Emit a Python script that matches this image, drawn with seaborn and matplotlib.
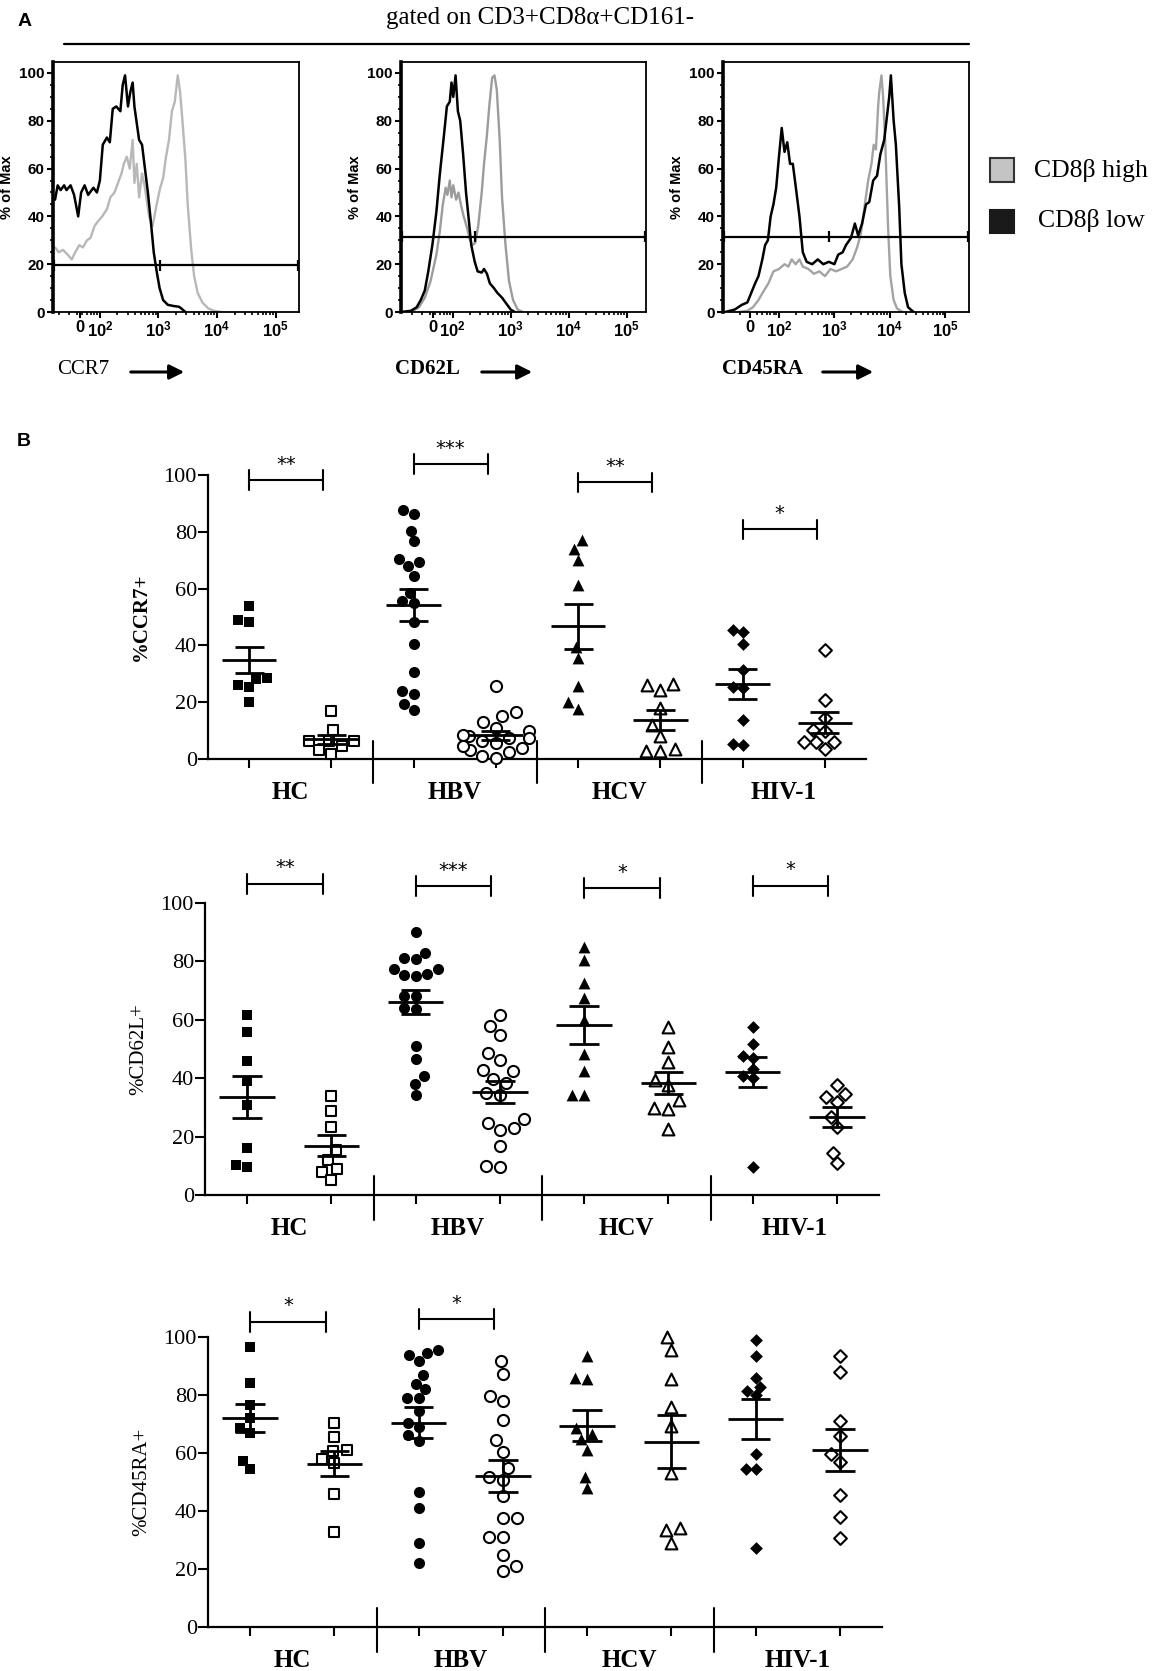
import numpy as np
import pandas as pd
import matplotlib
matplotlib.use("Agg")
import matplotlib.pyplot as plt
import seaborn as sns
from matplotlib.patches import Rectangle
from matplotlib.lines import Line2D

sns.set_theme(style="ticks", rc={"axes.edgecolor": "black", "xtick.color": "black",
                                 "ytick.color": "black", "text.color": "black",
                                 "axes.labelcolor": "black"})
plt.rcParams['font.family'] = ['Liberation Serif', 'DejaVu Serif']
plt.rcParams['mathtext.fontset'] = 'custom'
plt.rcParams['mathtext.bf'] = 'Liberation Sans:bold'
plt.rcParams['mathtext.rm'] = 'Liberation Sans:bold'

W, H = 1158, 1671

# ---------------- panel A: histograms (x in display decades, y in % of max)
ccr7_hi_x = [1.235, 1.30, 1.37, 1.45, 1.52, 1.58, 1.65, 1.71, 1.78, 1.84, 1.91, 1.97, 2.04, 2.12,
             2.18, 2.25, 2.31, 2.37, 2.41, 2.46, 2.51, 2.56, 2.59, 2.63, 2.67, 2.72, 2.77, 2.84,
             2.90, 2.97, 3.03, 3.08, 3.13, 3.18, 3.23, 3.28, 3.33, 3.37, 3.41, 3.46, 3.50, 3.56,
             3.61, 3.67, 3.75, 3.85, 3.95, 4.08]
ccr7_hi_y = [27, 25, 26, 24, 22, 25, 28, 27, 30, 31, 36, 38, 40, 43,
             48, 50, 54, 58, 62, 65, 60, 72, 54, 62, 48, 58, 52, 40,
             36, 45, 52, 56, 65, 72, 84, 88, 99, 92, 80, 64, 45, 26,
             15, 8, 4, 1.5, 0.5, 0]
ccr7_lo_x = [1.235, 1.28, 1.33, 1.39, 1.43, 1.50, 1.56, 1.63, 1.68, 1.74, 1.80, 1.89, 1.95, 2.00,
             2.05, 2.12, 2.17, 2.22, 2.28, 2.35, 2.39, 2.43, 2.48, 2.52, 2.56, 2.59, 2.63, 2.67,
             2.72, 2.77, 2.82, 2.87, 2.92, 2.97, 3.02, 3.08, 3.16, 3.26, 3.35, 3.39, 3.46]
ccr7_lo_y = [47, 53, 51, 53, 51, 53, 49, 40, 50, 53, 49, 52, 50, 55,
             70, 73, 71, 85, 86, 84, 95, 99, 86, 92, 96, 86, 79, 72,
             70, 60, 50, 38, 25, 17, 10, 5, 3, 2.5, 2.2, 1.5, 0]

cd62l_hi_x = [1.32, 1.42, 1.52, 1.62, 1.72, 1.78, 1.83, 1.88, 1.91, 1.95, 1.98, 2.01, 2.06, 2.10,
              2.15, 2.19, 2.25, 2.30, 2.34, 2.39, 2.44, 2.50, 2.54, 2.59, 2.63, 2.68, 2.72, 2.76,
              2.81, 2.85, 2.91, 2.97, 3.04, 3.12, 3.21]
cd62l_hi_y = [0.5, 2, 6, 13, 24, 34, 45, 52, 49, 55, 48, 53, 47, 50,
              44, 40, 35, 30, 28, 29, 36, 50, 62, 74, 86, 98, 99, 93,
              72, 48, 28, 13, 5, 1, 0]
cd62l_lo_x = [1.11, 1.28, 1.38, 1.45, 1.52, 1.58, 1.65, 1.72, 1.78, 1.85, 1.90, 1.95, 1.98, 2.01,
              2.05, 2.09, 2.13, 2.18, 2.23, 2.28, 2.32, 2.38, 2.43, 2.50, 2.54, 2.59, 2.64, 2.71,
              2.77, 2.85, 2.94, 3.00, 3.07]
cd62l_lo_y = [0, 0.5, 2, 5, 9, 17, 28, 42, 58, 74, 86, 88, 96, 90,
              99, 84, 80, 66, 50, 38, 28, 21, 17, 16.5, 18, 16, 12, 10,
              8, 6, 3, 1, 0]

cd45ra_hi_x = [1.27, 1.43, 1.53, 1.63, 1.73, 1.81, 1.90, 2.00, 2.10, 2.17, 2.23, 2.30, 2.37, 2.43,
               2.53, 2.63, 2.73, 2.83, 2.93, 3.03, 3.13, 3.23, 3.33, 3.41, 3.48, 3.55, 3.61, 3.67,
               3.71, 3.75, 3.79, 3.81, 3.85, 3.88, 3.92, 3.97, 4.01, 4.07, 4.13, 4.23]
cd45ra_hi_y = [0, 0.5, 2, 5, 9, 12, 17, 18, 20, 19, 22, 20, 22, 19,
               18, 16, 17, 15, 18, 17, 18, 19, 22, 27, 33, 45, 55, 62,
               70, 68, 86, 92, 99, 90, 70, 35, 15, 5, 1.5, 0]
cd45ra_lo_x = [1.03, 1.20, 1.33, 1.43, 1.50, 1.57, 1.63, 1.70, 1.75, 1.80, 1.85, 1.90, 1.95, 2.00,
               2.05, 2.10, 2.15, 2.20, 2.25, 2.30, 2.37, 2.43, 2.50, 2.60, 2.70, 2.80, 2.90, 3.00,
               3.07, 3.15, 3.21, 3.30, 3.37, 3.43, 3.50, 3.57, 3.63, 3.70, 3.77, 3.83, 3.90, 3.95,
               3.99, 4.02, 4.07, 4.11, 4.17, 4.21, 4.27, 4.33, 4.43]
cd45ra_lo_y = [0, 1, 3, 4, 8, 12, 15, 22, 28, 30, 40, 45, 52, 65,
               77, 67, 71, 62, 62, 53, 40, 25, 21, 20, 22, 20, 21, 20,
               24, 25, 28, 31, 37, 32, 37, 45, 46, 55, 57, 66, 72, 82,
               90, 99, 80, 70, 44, 20, 8, 2, 0]

hist_names = ["CCR7", "CD62L", "CD45RA"]
hist_xlims = [(1.20, 5.40), (1.11, 5.33), (0.99, 5.43)]
hist_zero = [1.66, 1.66, 1.48]
gate_levels = [19.5, 31.5, 31.5]
gate_marks = [3.03, 2.38, 2.91]
gray_tones = ["#b8b8b8", "#9c9c9c", "#a3a3a3"]

# ---------------- panel B: % positive cells, CD8b high (filled) / low (open)
groups = ["HC", "HBV", "HCV", "HIV-1"]

ccr7_hc_hi = [54.0, 48.1, 48.8, 28.5, 26.1, 28.1, 25.3, 19.9]
ccr7_hc_lo = [16.8, 10.3, 6.5, 6.2, 6.2, 4.5, 3.3, 1.9]
ccr7_hbv_hi = [87.7, 86.2, 80.4, 76.6, 69.5, 70.3, 68.1, 64.6, 58.6, 55.5, 54.9, 48.1, 40.6,
               30.8, 23.0, 23.8, 19.5, 17.4]
ccr7_hbv_lo = [25.8, 16.4, 15.0, 12.9, 10.9, 9.7, 7.4, 7.4, 8.0, 8.6, 6.2, 5.6, 2.3, 3.3, 0.4,
               0.9, 3.9, 4.5]
ccr7_hcv_hi = [77.1, 74.0, 70.1, 61.3, 39.6, 35.5, 25.6, 19.9, 17.6]
ccr7_hcv_lo = [25.9, 24.2, 26.4, 17.9, 12.1, 8.0, 3.5, 2.7, 2.7]
ccr7_hiv_hi = [45.5, 44.7, 40.6, 31.2, 25.0, 25.3, 13.8, 5.0, 5.3]
ccr7_hiv_lo = [38.5, 20.6, 14.4, 10.3, 9.7, 5.9, 5.9, 5.9, 3.5]

cd62l_hc_hi = [61.7, 55.7, 45.9, 39.2, 30.9, 16.0, 9.5, 10.3]
cd62l_hc_lo = [33.9, 28.9, 23.2, 15.4, 12.0, 8.9, 8.0, 5.1]
cd62l_hbv_hi = [90.2, 82.9, 81.1, 80.8, 75.8, 77.4, 74.9, 77.4, 75.3, 68.0, 68.0, 64.0, 63.7,
                51.1, 46.5, 40.6, 38.1, 34.3]
cd62l_hbv_lo = [61.5, 57.9, 54.9, 48.6, 46.1, 42.3, 42.9, 39.7, 38.3, 34.9, 34.3, 25.9, 24.6,
                22.9, 22.3, 16.8, 9.5, 9.9]
cd62l_hcv_hi = [84.9, 80.6, 72.6, 67.4, 59.8, 48.3, 42.3, 34.3, 34.3]
cd62l_hcv_lo = [57.7, 50.6, 45.7, 39.4, 37.7, 32.6, 29.7, 29.4, 22.5]
cd62l_hiv_hi = [57.7, 51.8, 46.9, 47.7, 43.1, 40.6, 40.0, 9.5]
cd62l_hiv_lo = [37.7, 34.5, 33.5, 31.8, 26.6, 23.4, 14.5, 10.9]

cd45ra_hc_hi = [96.6, 84.3, 76.4, 68.5, 67.0, 71.9, 57.2, 54.4]
cd45ra_hc_lo = [70.2, 65.6, 61.2, 60.7, 57.9, 56.4, 45.8, 32.6]
cd45ra_hbv_hi = [94.5, 95.4, 93.7, 91.7, 86.8, 83.9, 81.9, 79.1, 78.8, 74.5, 70.4, 69.0, 66.1,
                 64.2, 46.7, 40.9, 28.9, 22.0]
cd45ra_hbv_lo = [91.7, 87.2, 79.6, 78.0, 71.3, 64.4, 60.4, 54.9, 50.7, 51.6, 45.2, 37.7, 37.7,
                 31.2, 31.0, 24.7, 19.4, 20.9]
cd45ra_hcv_hi = [93.3, 85.7, 85.4, 68.5, 64.7, 66.5, 61.2, 51.8, 47.8]
cd45ra_hcv_lo = [100.0, 95.4, 85.4, 75.9, 69.4, 53.2, 34.1, 33.3, 28.9]
cd45ra_hiv_hi = [98.9, 93.5, 85.7, 82.6, 81.4, 79.9, 59.6, 54.4, 54.4, 27.2]
cd45ra_hiv_lo = [93.5, 88.0, 71.1, 65.8, 59.6, 57.0, 45.5, 38.1, 30.6]

ccr7_sets = [ccr7_hc_hi, ccr7_hc_lo, ccr7_hbv_hi, ccr7_hbv_lo,
             ccr7_hcv_hi, ccr7_hcv_lo, ccr7_hiv_hi, ccr7_hiv_lo]
cd62l_sets = [cd62l_hc_hi, cd62l_hc_lo, cd62l_hbv_hi, cd62l_hbv_lo,
              cd62l_hcv_hi, cd62l_hcv_lo, cd62l_hiv_hi, cd62l_hiv_lo]
cd45ra_sets = [cd45ra_hc_hi, cd45ra_hc_lo, cd45ra_hbv_hi, cd45ra_hbv_lo,
               cd45ra_hcv_hi, cd45ra_hcv_lo, cd45ra_hiv_hi, cd45ra_hiv_lo]

# significance: (group index, bracket height, stars)
ccr7_sig = [(0, 98.2, "**"), (1, 103.9, "***"), (2, 97.4, "**"), (3, 80.9, "*")]
cd62l_sig = [(0, 106.5, "**"), (1, 105.7, "***"), (2, 105.1, "*"), (3, 105.9, "*")]
cd45ra_sig = [(0, 105.2, "*"), (1, 106.1, "*")]

markers = ["s", "o", "^", "D"]
msizes = [7.5, 8, 8.5, 6.5]


def box(l, t, r, b):
    return [l / W, 1 - b / H, (r - l) / W, (b - t) / H]


fig = plt.figure(figsize=(W / 100, H / 100), dpi=100)

# ---------- panel A
hist_boxes = [(53, 62, 299, 312), (401, 62, 646, 312), (723, 62, 969, 312)]
hist_data = [(ccr7_hi_x, ccr7_hi_y, ccr7_lo_x, ccr7_lo_y),
             (cd62l_hi_x, cd62l_hi_y, cd62l_lo_x, cd62l_lo_y),
             (cd45ra_hi_x, cd45ra_hi_y, cd45ra_lo_x, cd45ra_lo_y)]

for i in range(3):
    ax = fig.add_axes(box(*hist_boxes[i]))
    hx, hy, lx, ly = hist_data[i]
    sns.lineplot(x=hx, y=hy, color=gray_tones[i], lw=1.7, sort=False, estimator=None, ax=ax)
    sns.lineplot(x=lx, y=ly, color="black", lw=1.8, sort=False, estimator=None, ax=ax)
    x0, x1 = hist_xlims[i]
    g = gate_levels[i]
    ax.hlines(g, x0, x1, color="black", lw=1.6)
    ax.vlines([x0 + 0.02, gate_marks[i], x1 - 0.02], g - 2.2, g + 2.2, color="black", lw=1.6)
    ax.set_xlim(x0, x1)
    ax.set_ylim(0, 104.6)
    ax.set_xticks([hist_zero[i], 2, 3, 4, 5])
    ax.set_xticklabels([r"$\mathbf{0}$", r"$\mathbf{10^{2}}$", r"$\mathbf{10^{3}}$",
                        r"$\mathbf{10^{4}}$", r"$\mathbf{10^{5}}$"], fontsize=12)
    minors = [np.log10(k * 10 ** d) for d in range(1, 5) for k in range(2, 10)]
    ax.set_xticks([m for m in minors if x0 < m < x1], minor=True)
    ax.set_yticks([0, 20, 40, 60, 80, 100])
    ax.set_yticks(np.arange(0, 101, 5), minor=True)
    ax.set_yticklabels(["0", "20", "40", "60", "80", "100"], fontsize=11,
                       fontweight="bold", family="Liberation Sans")
    ax.tick_params(which="major", direction="out", length=4, width=1.5, pad=2)
    ax.tick_params(which="minor", direction="out", length=2.5, width=1.2)
    ax.set_ylabel("% of Max", fontsize=10.5, fontweight="bold", family="Liberation Sans")
    ax.yaxis.set_label_coords(-39 / 246, 0.5)
    ax.set_xlabel("")
    for sp in ax.spines.values():
        sp.set_linewidth(1.3)
    ax.spines["left"].set_linewidth(2.6)

# marker names under histograms, with arrows
name_x = [57, 395, 722]
arrow_x = [(128, 187), (479, 535), (820, 876)]
name_weight = ["normal", "bold", "bold"]
for i in range(3):
    fig.text(name_x[i] / W, 1 - 369 / H, hist_names[i], fontsize=15, fontweight=name_weight[i],
             ha="left", va="center")
    fig.add_artist(matplotlib.patches.FancyArrowPatch(
        (arrow_x[i][0] / W, 1 - 372 / H), (arrow_x[i][1] / W, 1 - 372 / H),
        transform=fig.transFigure, arrowstyle="-|>", mutation_scale=22, lw=2.2, color="black"))

fig.text(25 / W, 1 - 21 / H, "A", fontsize=14, fontweight="bold", family="Liberation Sans",
         ha="center", va="center")
fig.text(540 / W, 1 - 24 / H, "gated on CD3+CD8\u03b1+CD161-", fontsize=18,
         ha="center", va="baseline")
fig.add_artist(Line2D([64 / W, 969 / W], [1 - 44 / H, 1 - 44 / H], color="black", lw=1.6))

# legend
fig.add_artist(Rectangle((990 / W, 1 - 182 / H), 24 / W, 24 / H, facecolor="#c4c4c4",
                         edgecolor="#333333", lw=1.5))
fig.add_artist(Rectangle((990 / W, 1 - 233 / H), 24 / W, 23 / H, facecolor="#1a1a1a",
                         edgecolor="#1a1a1a", lw=1.5))
fig.text(1034 / W, 1 - 170 / H, "CD8\u03b2 high", fontsize=18.5, ha="left", va="center")
fig.text(1038 / W, 1 - 221 / H, "CD8\u03b2 low", fontsize=18.5, ha="left", va="center")

fig.text(24 / W, 1 - 442 / H, "B", fontsize=14, fontweight="bold", family="Liberation Sans",
         ha="center", va="center")

# ---------- panel B
dot_boxes = [(208, 475, 866, 759), (205, 903, 879, 1195), (208, 1337, 882, 1627)]
dot_sets = [ccr7_sets, cd62l_sets, cd45ra_sets]
dot_sigs = [ccr7_sig, cd62l_sig, cd45ra_sig]
dot_labels = ["%CCR7+", "%CD62L+", "%CD45RA+"]
dot_label_weight = ["bold", "normal", "normal"]

for p in range(3):
    l, t, r, b = dot_boxes[p]
    ax = fig.add_axes(box(l, t, r, b))
    sets = dot_sets[p]
    rows = []
    for k, vals in enumerate(sets):
        for v in vals:
            rows.append({"pos": float(k), "value": v, "group": groups[k // 2],
                         "subset": "high" if k % 2 == 0 else "low"})
    df = pd.DataFrame(rows)

    for k in range(8):
        sub = df[df["pos"] == k]
        filled = k % 2 == 0
        sns.swarmplot(data=sub, x="pos", y="value", native_scale=True, orient="x",
                      marker=markers[k // 2], size=msizes[k // 2],
                      color="black" if filled else "white", edgecolor="black",
                      linewidth=0 if filled else 1.5, ax=ax, zorder=3)

    stats = df.groupby("pos")["value"].agg(["mean", "sem"])
    for k, row in stats.iterrows():
        m, s = row["mean"], row["sem"]
        ax.hlines(m, k - 0.33, k + 0.33, color="black", lw=2, zorder=4)
        ax.vlines(k, m - s, m + s, color="black", lw=2, zorder=4)
        ax.hlines([m - s, m + s], k - 0.175, k + 0.175, color="black", lw=2, zorder=4)

    for gi, yb, stars in dot_sigs[p]:
        xa, xb = 2 * gi, 2 * gi + 0.9
        ax.plot([xa, xb], [yb, yb], color="black", lw=1.5, clip_on=False)
        ax.plot([xa, xa], [yb - 3.4, yb + 3.4], color="black", lw=1.5, clip_on=False)
        ax.plot([xb, xb], [yb - 3.4, yb + 3.4], color="black", lw=1.5, clip_on=False)
        ax.text((xa + xb) / 2, yb + 5.5, stars, fontsize=14, ha="center", va="center",
                family="DejaVu Sans")

    for xd in [1.5, 3.5, 5.5]:
        ax.plot([xd, xd], [6.5, -8.5], color="black", lw=1.5, clip_on=False)

    for gi, grp in enumerate(groups):
        ax.annotate(grp, xy=(2 * gi + 0.5, 0), xycoords="data", xytext=(0, -24),
                    textcoords="offset points", ha="center", va="center", fontsize=18,
                    fontweight="bold", annotation_clip=False)

    ax.set_xlim(-0.5, 7.5)
    ax.set_ylim(0, 100)
    ax.set_xticks(range(8))
    ax.set_xticklabels([])
    ax.set_yticks([0, 20, 40, 60, 80, 100])
    ax.set_yticklabels(["0", "20", "40", "60", "80", "100"], fontsize=16)
    ax.tick_params(axis="y", direction="out", length=7, width=1.5, pad=1)
    ax.tick_params(axis="x", direction="out", length=6.5, width=1.5)
    ax.set_xlabel("")
    ax.set_ylabel(dot_labels[p], fontsize=15, fontweight=dot_label_weight[p])
    ax.yaxis.set_label_coords(-57 / (r - l), 0.5)
    sns.despine(ax=ax)
    ax.spines["left"].set_linewidth(1.6)
    ax.spines["bottom"].set_linewidth(1.6)
    for c in ax.collections:
        c.set_clip_on(False)

fig.savefig("out.png", dpi=100)
